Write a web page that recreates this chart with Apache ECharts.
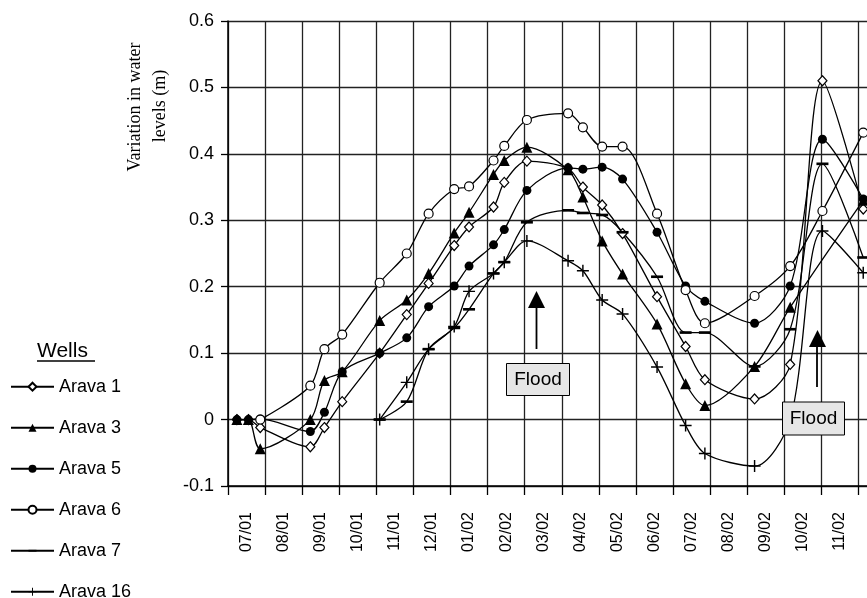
<!DOCTYPE html>
<html><head><meta charset="utf-8">
<script src="https://cdn.jsdelivr.net/npm/echarts@6/dist/echarts.min.js"></script>
<style>html,body{margin:0;padding:0;background:#fff}#c{width:867px;height:598px}</style>
</head><body><div id="c"></div>
<script>
// Month category labels (each band = one month, first band starts 1 Jul 2001)
const months = ['07/01','08/01','09/01','10/01','11/01','12/01','01/02','02/02','03/02','04/02','05/02','06/02','07/02','08/02','09/02','10/02','11/02','12/02'];
const yTickLabels = ['-0.1','0','0.1','0.2','0.3','0.4','0.5','0.6'];
const wells = ['Arava 1','Arava 3','Arava 5','Arava 6','Arava 7','Arava 16'];

// Measurement times, in months since 1 Jul 2001
const t_arava1 = [0.24,0.55,0.87,2.22,2.6,3.08,4.09,4.82,5.41,6.1,6.5,7.16,7.45,8.06,9.17,9.57,10.09,10.64,11.57,12.34,12.86,14.2,15.16,16.03,17.13];
const v_arava1 = [0,0,-0.012,-0.041,-0.012,0.027,0.1,0.158,0.205,0.262,0.29,0.32,0.357,0.389,0.378,0.35,0.323,0.28,0.185,0.11,0.06,0.031,0.083,0.51,0.317];

const t_arava3 = [0.24,0.55,0.87,2.22,2.6,3.08,4.09,4.82,5.41,6.1,6.5,7.16,7.45,8.06,9.17,9.57,10.09,10.64,11.57,12.34,12.86,14.2,15.16,17.13];
const v_arava3 = [0,0,-0.044,0,0.059,0.072,0.149,0.18,0.22,0.281,0.312,0.369,0.39,0.41,0.376,0.335,0.269,0.219,0.144,0.054,0.021,0.08,0.169,0.33];

const t_arava5 = [0.24,0.55,0.87,2.22,2.6,3.08,4.09,4.82,5.41,6.1,6.5,7.16,7.45,8.06,9.17,9.57,10.09,10.64,11.57,12.34,12.86,14.2,15.16,16.03,17.13];
const v_arava5 = [0,0,0.001,-0.018,0.011,0.072,0.1,0.123,0.17,0.201,0.231,0.263,0.286,0.345,0.379,0.377,0.38,0.362,0.282,0.201,0.178,0.145,0.201,0.422,0.332];

const t_arava6 = [0.87,2.22,2.6,3.08,4.09,4.82,5.41,6.1,6.5,7.16,7.45,8.06,9.17,9.57,10.09,10.64,11.57,12.34,12.86,14.2,15.16,16.03,17.13];
const v_arava6 = [0,0.051,0.106,0.128,0.206,0.25,0.31,0.347,0.351,0.39,0.412,0.451,0.461,0.44,0.411,0.411,0.31,0.195,0.145,0.186,0.231,0.314,0.432];

const t_arava7 = [4.09,4.82,5.41,6.1,6.5,7.16,7.45,8.06,9.17,9.57,10.09,10.64,11.57,12.34,12.86,14.2,15.16,16.03,17.13];
const v_arava7 = [0,0.027,0.106,0.138,0.166,0.22,0.237,0.297,0.315,0.311,0.308,0.282,0.215,0.131,0.131,0.08,0.136,0.385,0.244];

const t_arava16 = [4.09,4.82,5.41,6.1,6.5,7.16,7.45,8.06,9.17,9.57,10.09,10.64,11.57,12.34,12.86,14.2,15.16,16.03,17.13];
const v_arava16 = [0,0.056,0.106,0.14,0.193,0.22,0.237,0.269,0.239,0.224,0.18,0.159,0.079,-0.009,-0.051,-0.07,0,0.284,0.221];

const PLUS = 'path://M4.4,0H5.6V4.4H10V5.6H5.6V10H4.4V5.6H0V4.4H4.4Z';
const DASH = 'path://M0,0M10,10M0,3.9H10V6.1H0Z';

const seriesStyle = [
  {t:t_arava1, v:v_arava1, symbol:'diamond', size:[9,10], fill:'#fff'},
  {t:t_arava3, v:v_arava3, symbol:'triangle', size:11, fill:'#000'},
  {t:t_arava5, v:v_arava5, symbol:'circle', size:9, fill:'#000'},
  {t:t_arava6, v:v_arava6, symbol:'circle', size:9, fill:'#fff'},
  {t:t_arava7, v:v_arava7, symbol:DASH, size:12, fill:'#000'},
  {t:t_arava16, v:v_arava16, symbol:PLUS, size:12, fill:'#000'}
];

const series = seriesStyle.map((s, i) => ({
  name: wells[i], type: 'line', xAxisIndex: 1, yAxisIndex: 0,
  data: s.t.map((x, k) => [x, s.v[k]]),
  smooth: 0.3, symbol: s.symbol, symbolSize: s.size, showSymbol: true,
  lineStyle: {color: '#000', width: 1.3},
  itemStyle: {color: s.fill, borderColor: '#000', borderWidth: s.fill === '#fff' ? 1.2 : 0},
  emphasis: {disabled: true}, z: 3
}));

const SANS = 'Liberation Sans';
const chart = echarts.init(document.getElementById('c'), null, {renderer: 'canvas'});
chart.setOption({
  animation: false,
  backgroundColor: '#fff',
  grid: {left: 228, top: 21, width: 667.5, bottom: 112, containLabel: false, outerBoundsMode: 'none'},
  xAxis: [
    {type: 'category', data: months, boundaryGap: true, position: 'bottom',
     axisLine: {onZero: false, lineStyle: {color: '#000', width: 1.5}},
     axisTick: {show: true, interval: 0, length: 9, lineStyle: {color: '#000', width: 1.3}},
     axisLabel: {interval: 0, rotate: 90, margin: 26, color: '#000', fontSize: 16, fontFamily: SANS},
     splitLine: {show: true, interval: 0, lineStyle: {color: '#222', width: 1.3}}},
    {type: 'value', min: 0, max: 18, show: false}
  ],
  yAxis: [{type: 'value', min: -0.1, max: 0.6, interval: 0.1,
    axisLine: {show: true, lineStyle: {color: '#000', width: 1.5}},
    axisTick: {show: true, length: 7, lineStyle: {color: '#000', width: 1.3}},
    axisLabel: {margin: 14, color: '#000', fontSize: 18, fontFamily: SANS,
      formatter: v => yTickLabels[Math.round((v + 0.1) / 0.1)]},
    splitLine: {show: true, lineStyle: {color: '#222', width: 1.3}}}],
  legend: {
    orient: 'vertical', left: 10, top: 377.7, height: 300, padding: 0,
    itemWidth: 43, itemHeight: 10, itemGap: 23,
    textStyle: {fontFamily: SANS, fontSize: 18, color: '#000'},
    data: wells, selectedMode: false
  },
  graphic: [
    {type: 'text', x: 135, y: 107, rotation: Math.PI / 2,
     style: {text: 'Variation in water', font: '18px "Liberation Serif"', fill: '#000', align: 'center', verticalAlign: 'middle'}},
    {type: 'text', x: 160, y: 106, rotation: Math.PI / 2,
     style: {text: 'levels (m)', font: '18px "Liberation Serif"', fill: '#000', align: 'center', verticalAlign: 'middle'}},
    {type: 'text', x: 37, y: 351,
     style: {text: 'Wells', font: '21px "Liberation Sans"', fill: '#000', align: 'left', verticalAlign: 'middle'}},
    {type: 'line', shape: {x1: 37, y1: 361, x2: 95, y2: 361}, style: {stroke: '#000', lineWidth: 1.5}},
    // Flood annotation 1
    {type: 'line', shape: {x1: 536.5, y1: 306, x2: 536.5, y2: 349}, style: {stroke: '#000', lineWidth: 1.8}, z: 10},
    {type: 'polygon', shape: {points: [[536.5, 291], [528, 308], [545, 308]]}, style: {fill: '#000'}, z: 10},
    {type: 'rect', shape: {x: 506.5, y: 363.5, width: 63, height: 32}, style: {fill: '#e6e6e6', stroke: '#000', lineWidth: 1}, z: 10},
    {type: 'text', x: 538, y: 380, style: {text: 'Flood', font: '19px "Liberation Sans"', fill: '#000', align: 'center', verticalAlign: 'middle'}, z: 11},
    // Flood annotation 2
    {type: 'line', shape: {x1: 817, y1: 345, x2: 817, y2: 387}, style: {stroke: '#000', lineWidth: 1.8}, z: 10},
    {type: 'polygon', shape: {points: [[817.5, 330], [809, 347], [826, 347]]}, style: {fill: '#000'}, z: 10},
    {type: 'rect', shape: {x: 782.5, y: 402, width: 62, height: 33}, style: {fill: '#e6e6e6', stroke: '#000', lineWidth: 1}, z: 10},
    {type: 'text', x: 813.5, y: 419, style: {text: 'Flood', font: '19px "Liberation Sans"', fill: '#000', align: 'center', verticalAlign: 'middle'}, z: 11}
  ],
  series: series
});
</script>
</body></html>
